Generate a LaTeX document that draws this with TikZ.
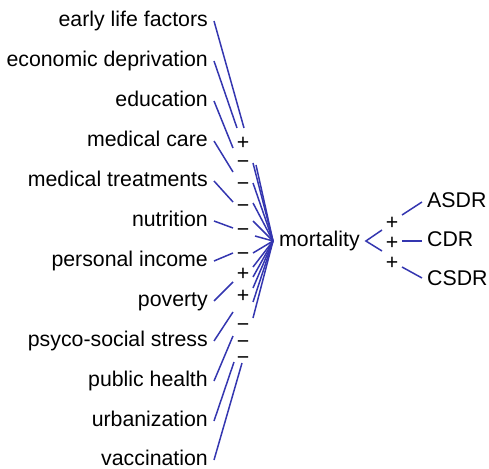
\documentclass[tikz,border=0pt]{standalone}
\usepackage{fontspec}
\setmainfont{Liberation Sans}
\definecolor{linkblue}{RGB}{52,54,176}
\begin{document}
\begin{tikzpicture}[x=1bp,y=-1bp,
  lbl/.style={font=\fontsize{21.3bp}{25bp}\selectfont, inner ysep=0pt, inner xsep=6bp, text height=15.5bp, text depth=4.5bp},
  cause/.style={lbl, anchor=east},
  target/.style={lbl, inner xsep=5bp, anchor=west},
  sgn/.style={font=\fontsize{21.3bp}{25bp}\selectfont, inner sep=0pt, anchor=base, yshift=-7bp},
  link/.style={draw=linkblue, line width=1.5bp}]
\useasboundingbox (0,0) rectangle (489,469);
% causes
\node[cause] (c1) at (214,21) {early life factors};
\node[cause] (c2) at (214,61) {economic deprivation};
\node[cause] (c3) at (214,101) {education};
\node[cause] (c4) at (214,141) {medical care};
\node[cause] (c5) at (214,181) {medical treatments};
\node[cause] (c6) at (214,221) {nutrition};
\node[cause] (c7) at (214,261) {personal income};
\node[cause] (c8) at (214,301) {poverty};
\node[cause] (c9) at (214,341) {psyco-social stress};
\node[cause] (c10) at (214,381) {public health};
\node[cause] (c11) at (214,421) {urbanization};
\node[cause] (c12) at (214,460) {vaccination};
% mortality and effects
\node[lbl, anchor=west] (mort) at (273,241) {mortality};
\node[target] (asdr) at (422,202) {ASDR};
\node[target] (cdr) at (422,241) {CDR};
\node[target] (csdr) at (422,280) {CSDR};
% signs left
\node[sgn] (s2) at (243,143) {+};
\node[sgn] (s3) at (243,162) {−};
\node[sgn] (s4) at (243,184) {−};
\node[sgn] (s5) at (243,206) {−};
\node[sgn] (s6) at (243,230) {−};
\node[sgn] (s7) at (243,253) {−};
\node[sgn] (s8) at (243,273) {+};
\node[sgn] (s9) at (243,295) {+};
\node[sgn] (s10) at (243,324) {−};
\node[sgn] (s11) at (243,341) {−};
\node[sgn] (s12) at (243,357) {−};
% signs right
\node[sgn] (t1) at (392,223) {+};
\node[sgn] (t2) at (392,242) {+};
\node[sgn] (t3) at (392,262) {+};
% first segment end points
\coordinate (e1) at (244,128);
\coordinate (e2) at (237,128);
\coordinate (e3) at (233,148);
\coordinate (e4) at (233,172);
\coordinate (e5) at (233,202);
\coordinate (e6) at (233,228);
\coordinate (e7) at (233,253);
\coordinate (e8) at (233,282);
\coordinate (e9) at (233,312);
\coordinate (e10) at (233,336);
\coordinate (e11) at (234,362);
\coordinate (e12) at (242,363);
% second segment start points
\coordinate (r1) at (253,163);
\coordinate (r2) at (256,165);
\coordinate (r3) at (253,183);
\coordinate (r4) at (253,203);
\coordinate (r5) at (253,221);
\coordinate (r6) at (255,236);
\coordinate (r7) at (253,253);
\coordinate (r8) at (253,267);
\coordinate (r9) at (253,277);
\coordinate (r10) at (253,288);
\coordinate (r11) at (253,302);
\coordinate (r12) at (253,318);
\foreach \i in {1,...,12} {
  \draw[link] (c\i.east) -- (e\i);
  \draw[link] (r\i) -- (mort.west);
}
% right side
\coordinate (m1) at (382,230);
\coordinate (m3) at (382,251);
\coordinate (a1) at (402,215);
\coordinate (a2) at (402,241);
\coordinate (a3) at (402,267);
\draw[link] (m1) -- (mort.east) -- (m3);
\draw[link] (a1) -- (asdr.west);
\draw[link] (a2) -- (cdr.west);
\draw[link] (a3) -- ([yshift=2bp]csdr.west);
\end{tikzpicture}
\end{document}
